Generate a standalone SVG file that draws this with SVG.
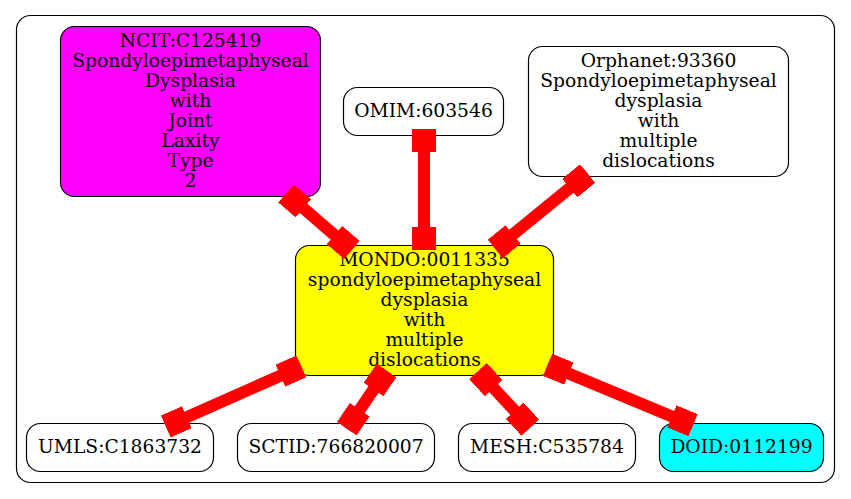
<svg xmlns="http://www.w3.org/2000/svg" width="851" height="499" viewBox="0 0 851 499">
<style>
.n{stroke:#000;stroke-width:1.2}
.t{font-family:"DejaVu Serif","Liberation Serif",serif;font-size:18.7px;text-anchor:middle;fill:#000}
.e{stroke:#f00;stroke-width:12;fill:none;marker-start:url(#bx);marker-end:url(#bx)}
</style>
<defs>
<marker id="bx" markerUnits="userSpaceOnUse" orient="auto-start-reverse" viewBox="-23 -12 23 24" refX="0" refY="0" markerWidth="23" markerHeight="24">
<path d="M-23,-12H0V12H-23Z" fill="#f00"/>
</marker>
</defs>
<rect width="851" height="499" fill="#fff"/>
<rect x="16.5" y="15.5" width="818" height="467" rx="14" fill="none" stroke="#000" stroke-width="1.2"/>
<g id="ncit">
<rect class="n" x="60.5" y="26.5" width="260" height="170" rx="14" fill="#f0f"/>
<text class="t"><tspan x="190.5" y="46.7">NCIT:C125419</tspan><tspan x="190.5" y="66.7">Spondyloepimetaphyseal</tspan><tspan x="190.5" y="86.7">Dysplasia</tspan><tspan x="190.5" y="106.7">with</tspan><tspan x="190.5" y="126.7">Joint</tspan><tspan x="190.5" y="146.7">Laxity</tspan><tspan x="190.5" y="166.7">Type</tspan><tspan x="190.5" y="186.7">2</tspan></text>
</g>
<g id="omim">
<rect class="n" x="343.5" y="87.5" width="160" height="48" rx="14" fill="#fff"/>
<text class="t" x="423.5" y="116.7">OMIM:603546</text>
</g>
<g id="orphanet">
<rect class="n" x="528.5" y="46.5" width="260" height="130" rx="14" fill="#fff"/>
<text class="t"><tspan x="658.5" y="66.7">Orphanet:93360</tspan><tspan x="658.5" y="86.7">Spondyloepimetaphyseal</tspan><tspan x="658.5" y="106.7">dysplasia</tspan><tspan x="658.5" y="126.7">with</tspan><tspan x="658.5" y="146.7">multiple</tspan><tspan x="658.5" y="166.7">dislocations</tspan></text>
</g>
<g id="mondo">
<rect class="n" x="295.5" y="245.5" width="258" height="130" rx="14" fill="#ff0"/>
<text class="t"><tspan x="424.5" y="266">MONDO:0011335</tspan><tspan x="424.5" y="286">spondyloepimetaphyseal</tspan><tspan x="424.5" y="306">dysplasia</tspan><tspan x="424.5" y="326">with</tspan><tspan x="424.5" y="346">multiple</tspan><tspan x="424.5" y="366">dislocations</tspan></text>
</g>
<g id="umls">
<rect class="n" x="26.5" y="423.5" width="187" height="48" rx="14" fill="#fff"/>
<text class="t" x="120" y="453.3">UMLS:C1863732</text>
</g>
<g id="sctid">
<rect class="n" x="237.5" y="423.5" width="197" height="48" rx="14" fill="#fff"/>
<text class="t" x="336" y="453.3">SCTID:766820007</text>
</g>
<g id="mesh">
<rect class="n" x="458.5" y="423.5" width="177" height="48" rx="14" fill="#fff"/>
<text class="t" x="547" y="453.3">MESH:C535784</text>
</g>
<g id="doid">
<rect class="n" x="659.5" y="423.5" width="164" height="48" rx="14" fill="#0ff"/>
<text class="t" x="741.5" y="453.3">DOID:0112199</text>
</g>
<g id="edges">
<path class="e" d="M286,193.3L351.9,250"/>
<path class="e" d="M424,129L424,250"/>
<path class="e" d="M587.6,173.5L495.3,249"/>
<path class="e" d="M301.3,366.4L165.8,426.5"/>
<path class="e" d="M386.5,370.5L346.8,428.7"/>
<path class="e" d="M478,371.2L530.3,427.6"/>
<path class="e" d="M547.6,364.8L693.1,425.2"/>
</g>
</svg>
